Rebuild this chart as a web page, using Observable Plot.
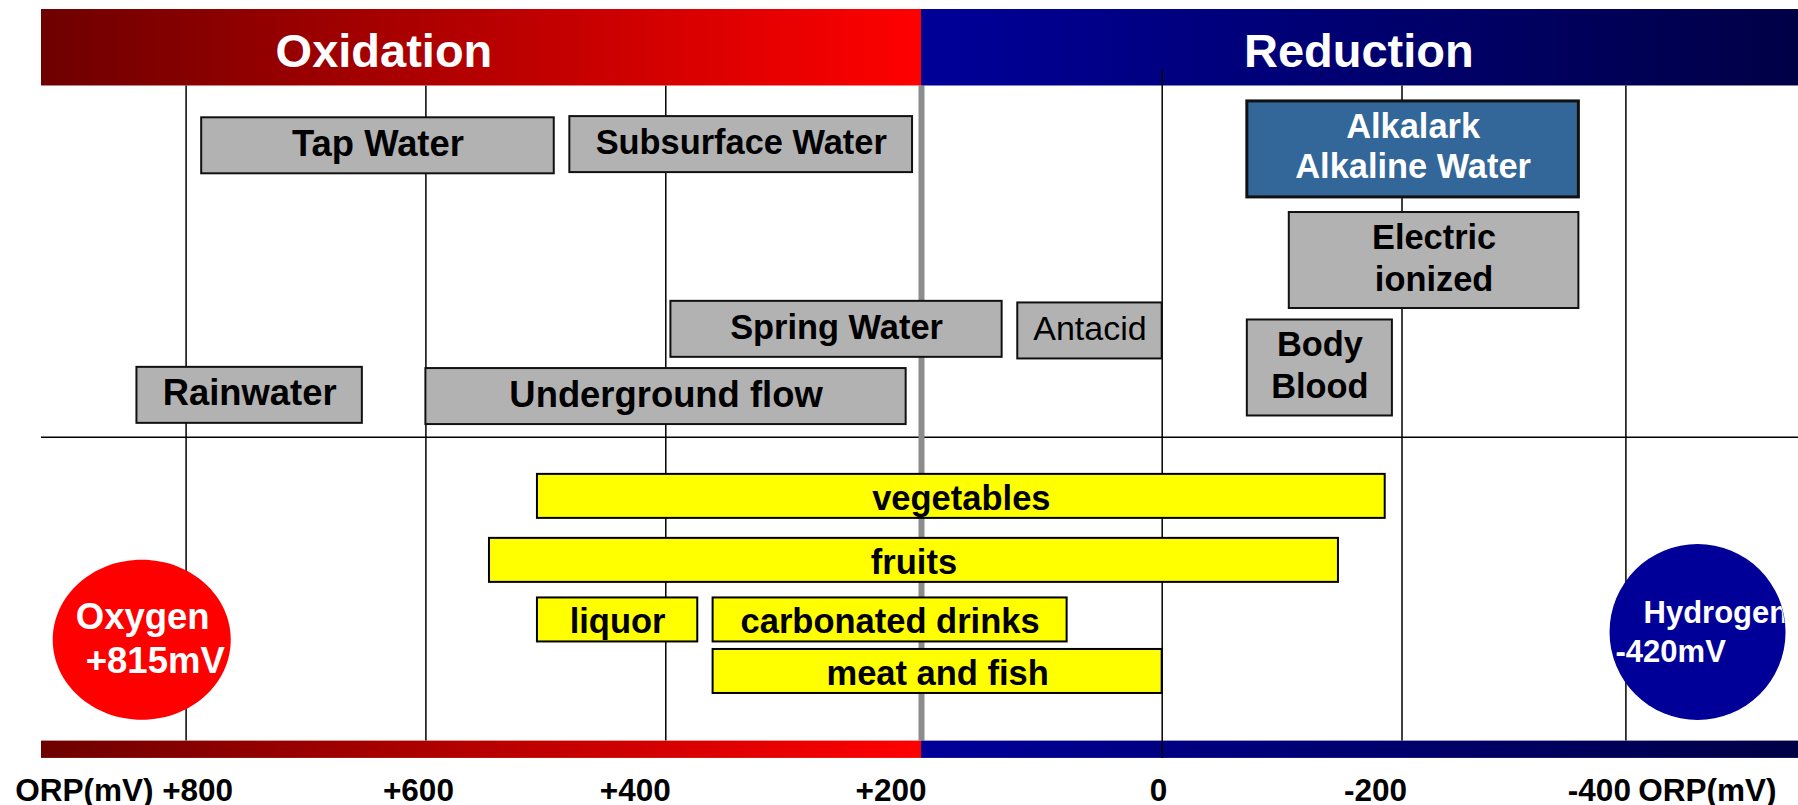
<!DOCTYPE html>
<html>
<head>
<meta charset="utf-8">
<script src="https://cdn.jsdelivr.net/npm/d3@7"></script>
<script src="https://cdn.jsdelivr.net/npm/@observablehq/plot@0.6"></script>
<style>
  html, body { margin: 0; padding: 0; background: #fff; overflow: hidden; }
  #chart svg { display: block; }
</style>
</head>
<body>
<div id="chart"></div>
<script>
// ---------------- data ----------------
const tickValues = [800, 600, 400, 200, 0, -200, -400];
const tickLabels = ["+800", "+600", "+400", "+200", "0", "-200", "-400"];
const axisTitle = "ORP(mV)";
const boundaryMV = 200;                       // oxidation / reduction split
const sideNames = ["Oxidation", "Reduction"];
const sideAt = [635, -164];                   // mV under the heading centre

const waterNames = ["Tap Water", "Subsurface Water", "Alkalark\nAlkaline Water", "Electric\nionized",
                    "Spring Water", "Antacid", "Body\nBlood", "Rainwater", "Underground flow"];
const waterFrom = [787, 480, -71, -106, 396, 120, -71, 841, 600];
const waterTo   = [493, 207, -358, -358, 133, 0, -192, 653, 212];
const waterLane = [3.61, 3.58, 3.70, 6.46, 8.17, 8.21, 9.13, 9.81, 9.84];

const foodNames = ["vegetables", "fruits", "liquor", "carbonated drinks", "meat and fish"];
const foodFrom  = [507, 547, 507, 363, 363];
const foodTo    = [-186, -147, 375, 79, 0];
const foodLane  = [12.32, 13.91, 15.39, 15.39, 16.67];

const gasNames = ["Oxygen", "Hydrogen"];
const gasORP   = ["+815mV", "-420mV"];
const gasAt    = [837, -464];
const gasLane  = [15.88, 15.69];

// ---------------- tables ----------------
const water = waterNames.map((name, i) => ({name, from: waterFrom[i], to: waterTo[i], lane: waterLane[i], lines: name.split("\n").length}));
const food = foodNames.map((name, i) => ({name, from: foodFrom[i], to: foodTo[i], lane: foodLane[i]}));
const gases = gasNames.map((name, i) => ({name, orp: gasORP[i], at: gasAt[i], lane: gasLane[i]}));
const sides = sideNames.map((name, i) => ({name, at: sideAt[i]}));
const ticks = tickValues.map((value, i) => ({value, label: tickLabels[i]}));

// ---------------- layout / style ----------------
const W = 1798, H = 805, ML = 41;
const xRange = [185.6, 425.4, 665.3, 921, 1161.7, 1401.5, 1625.4]; // hand-drawn (non uniform) grid of the original
const xs = d3.scaleLinear(tickValues, xRange);
const ys = d3.scaleLinear([0, 20], [0, H]);
const leftEdge = xs.invert(ML), rightEdge = xs.invert(W);
const mid = (a, b) => xs.invert((xs(a) + xs(b)) / 2);

const FONT = "'Liberation Sans', Arial, Helvetica, sans-serif";
const featured = "Alkalark\nAlkaline Water";
const bigLabels = new Set(["Tap Water", "Rainwater", "Underground flow"]);
const lightLabels = new Set(["Antacid"]);
const nudged = new Set(["+600"]);

const bannerTop = 0.224, bannerBottom = 2.124, bannerMid = (bannerTop + bannerBottom) / 2;
const barTop = 18.40, barBottom = 18.83;
const dividerLane = 10.85, zeroTop = 1.714;
const oxy = gases.filter(d => d.name === "Oxygen"), hyd = gases.filter(d => d.name === "Hydrogen");
const hydR = 88;

const ellipse = ratio => ({
  draw(ctx, size) {
    const rx = Math.sqrt(size / Math.PI), ry = rx * ratio, k = 0.5522847498;
    ctx.moveTo(rx, 0);
    ctx.bezierCurveTo(rx, ry * k, rx * k, ry, 0, ry);
    ctx.bezierCurveTo(-rx * k, ry, -rx, ry * k, -rx, 0);
    ctx.bezierCurveTo(-rx, -ry * k, -rx * k, -ry, 0, -ry);
    ctx.bezierCurveTo(rx * k, -ry, rx, -ry * k, rx, 0);
    ctx.closePath();
  }
});

const txt = {fontFamily: FONT, fontWeight: "bold"};
const boxLabel = (data, opts) => Plot.text(data, {
  x: d => mid(d.from, d.to), y: "lane", text: "name", lineAnchor: "middle", lineHeight: 1.21, ...txt, ...opts
});
const tickText = {x: "value", text: "label", frameAnchor: "bottom", lineAnchor: "bottom", dy: -5, textAnchor: "end", fontSize: 31.5, fill: "#000", ...txt};

const chart = Plot.plot({
  width: W, height: H,
  marginLeft: ML, marginRight: 0, marginTop: 0, marginBottom: 0,
  style: {fontFamily: FONT, background: "white", overflow: "visible"},
  x: {type: "linear", domain: tickValues, range: xRange, axis: null},
  y: {type: "linear", domain: [0, 20], range: [0, H], axis: null},
  marks: [
    // divider between water and food
    Plot.ruleY([dividerLane], {stroke: "#000", strokeWidth: 1.5}),
    // grid lines
    Plot.ruleX(tickValues.filter(v => v !== 0 && v !== boundaryMV), {x: d => d, y1: bannerBottom, y2: barTop, stroke: "#000", strokeWidth: 1.5}),
    Plot.ruleX([boundaryMV], {x: d => d, y1: bannerBottom, y2: barTop, stroke: "#8c8c8c", strokeWidth: 6}),
    // banners
    Plot.rect([{x1: leftEdge, x2: boundaryMV}], {x1: "x1", x2: "x2", y1: bannerTop, y2: bannerBottom, fill: "url(#gRed)"}),
    Plot.rect([{x1: boundaryMV, x2: rightEdge}], {x1: "x1", x2: "x2", y1: bannerTop, y2: bannerBottom, fill: "url(#gBlue)"}),
    Plot.rect([{x1: leftEdge, x2: boundaryMV}], {x1: "x1", x2: "x2", y1: barTop, y2: barBottom, fill: "url(#gRed)"}),
    Plot.rect([{x1: boundaryMV, x2: rightEdge}], {x1: "x1", x2: "x2", y1: barTop, y2: barBottom, fill: "url(#gBlue)"}),
    Plot.ruleX([0], {x: d => d, y1: zeroTop, y2: barBottom, stroke: "#000", strokeWidth: 1.5}),
    Plot.text(sides, {x: "at", y: bannerMid, text: "name", fill: "white", fontSize: 47, lineAnchor: "middle", dy: 4, ...txt}),
    // water boxes
    Plot.rect(water.filter(d => d.lines === 1), {x1: "from", x2: "to", y1: "lane", y2: "lane", insetTop: -28, insetBottom: -28,
      fill: "#b2b2b2", stroke: "#111", strokeWidth: 2}),
    Plot.rect(water.filter(d => d.lines === 2 && d.name !== featured), {x1: "from", x2: "to", y1: "lane", y2: "lane", insetTop: -48, insetBottom: -48,
      fill: "#b2b2b2", stroke: "#111", strokeWidth: 2}),
    Plot.rect(water.filter(d => d.name === featured), {x1: "from", x2: "to", y1: "lane", y2: "lane", insetTop: -48, insetBottom: -48,
      fill: "#336699", stroke: "#111", strokeWidth: 3}),
    boxLabel(water.filter(d => !bigLabels.has(d.name) && !lightLabels.has(d.name) && d.name !== featured), {fontSize: 34.4, fill: "#000", dy: -4}),
    boxLabel(water.filter(d => bigLabels.has(d.name)), {fontSize: 36.4, fill: "#000", dy: -4}),
    boxLabel(water.filter(d => d.name === featured), {fontSize: 34.4, fill: "#fff", dy: -4, lineHeight: 1.17}),
    boxLabel(water.filter(d => lightLabels.has(d.name)), {fontSize: 34, fill: "#000", dy: -4, fontWeight: "normal"}),
    // food boxes
    Plot.rect(food, {x1: "from", x2: "to", y1: "lane", y2: "lane", insetTop: -22, insetBottom: -22,
      fill: "#ffff00", stroke: "#000", strokeWidth: 2}),
    boxLabel(food, {fontSize: 34.5, fill: "#000"}),
    // oxygen / hydrogen
    Plot.dot(oxy, {x: "at", y: "lane", r: 89, symbol: ellipse(80 / 89), fill: "#ff0000", stroke: "none"}),
    Plot.dot(hyd, {x: "at", y: "lane", r: hydR, fill: "#000099", stroke: "none"}),
    Plot.text(oxy, {x: "at", y: "lane", text: "name", textAnchor: "start", lineAnchor: "bottom", dx: -66, dy: -11, fontSize: 36.5, fill: "#fff", ...txt}),
    Plot.text(oxy, {x: "at", y: "lane", text: "orp", textAnchor: "start", lineAnchor: "bottom", dx: -56, dy: 33, fontSize: 36.5, fill: "#fff", ...txt}),
    Plot.text(hyd, {x: "at", y: "lane", text: "name", textAnchor: "start", lineAnchor: "bottom", dx: -54, dy: -9, fontSize: 31, fill: "#fff", ...txt}),
    Plot.text(hyd, {x: "at", y: "lane", text: "orp", textAnchor: "start", lineAnchor: "bottom", dx: -82, dy: 30, fontSize: 31, fill: "#fff", ...txt}),
    // bottom axis labels
    Plot.text(ticks.slice(0, 1), {...tickText, text: d => axisTitle + " " + d.label, dx: 47}),
    Plot.text(ticks.slice(1).filter(d => !nudged.has(d.label)), {...tickText, dx: 5}),
    Plot.text(ticks.filter(d => nudged.has(d.label)), {...tickText, dx: 28}),
    Plot.text([axisTitle], {...tickText, x: null, text: d => d, frameAnchor: "bottom-right", dx: -22})
  ]
});

// gradients for the banners
const svg = d3.select(chart);
const defs = svg.insert("defs", ":first-child");
const grad = (id, a, b) => {
  const g = defs.append("linearGradient").attr("id", id).attr("x1", "0").attr("x2", "1").attr("y1", "0").attr("y2", "0");
  g.append("stop").attr("offset", "0").attr("stop-color", a);
  g.append("stop").attr("offset", "1").attr("stop-color", b);
};
grad("gRed", "#6e0000", "#ff0000");
grad("gBlue", "#000099", "#000046");

// the hydrogen caption is clipped by its disc, as in the original
defs.append("clipPath").attr("id", "hClip").append("circle")
  .attr("cx", xs(hyd[0].at)).attr("cy", ys(hyd[0].lane)).attr("r", hydR);
svg.selectAll("text").filter(function () { return this.textContent === hyd[0].name; }).each(function () {
  const g = this.parentNode;
  const wrap = document.createElementNS("http://www.w3.org/2000/svg", "g");
  wrap.setAttribute("clip-path", "url(#hClip)");
  g.parentNode.insertBefore(wrap, g);
  wrap.appendChild(g);
});

document.getElementById("chart").appendChild(chart);
</script>
</body>
</html>
